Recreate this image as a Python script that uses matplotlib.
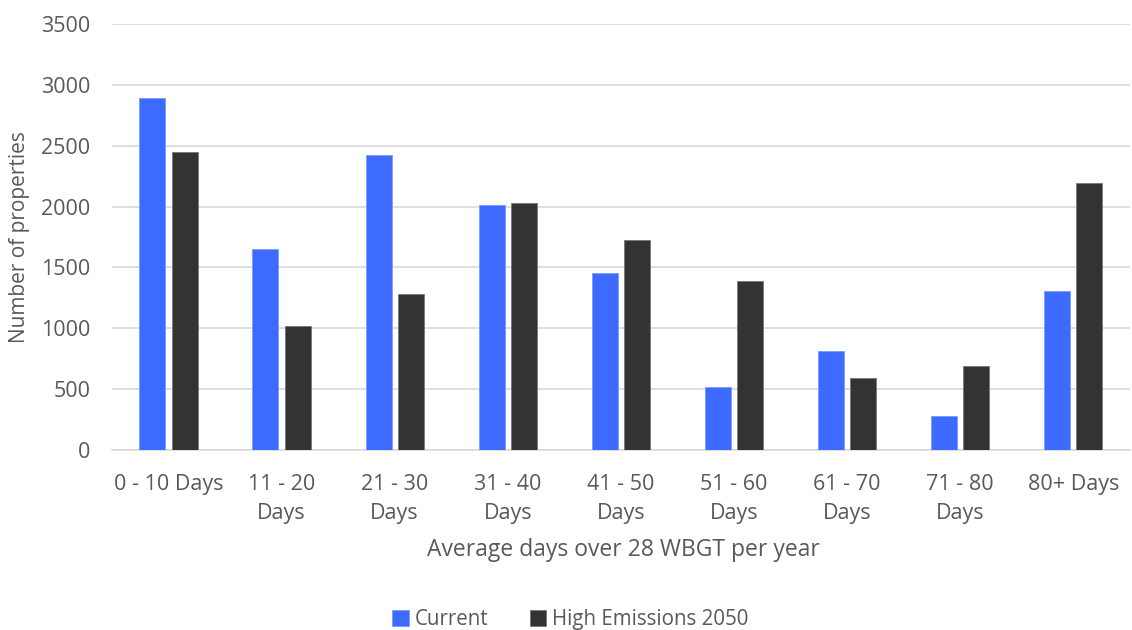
import matplotlib.pyplot as plt
import numpy as np

categories = ['0 - 10 Days', '11 - 20\nDays', '21 - 30\nDays', '31 - 40\nDays',
              '41 - 50\nDays', '51 - 60\nDays', '61 - 70\nDays', '71 - 80\nDays',
              '80+ Days']
current = [2890, 1650, 2420, 2015, 1455, 515, 810, 280, 1310]
high_2050 = [2445, 1020, 1280, 2025, 1727, 1388, 593, 686, 2190]
y_ticks = [0, 500, 1000, 1500, 2000, 2500, 3000, 3500]

plt.rcParams['font.family'] = ['Open Sans', 'DejaVu Sans']
text_color = '#595959'

fig = plt.figure(figsize=(11.32, 6.3), dpi=100)
ax = fig.add_axes([0.0989, 0.2857, 0.8991, 0.6763])

x = np.arange(len(categories))
w = 0.23
gap = 0.055
ax.bar(x - (w + gap) / 2, current, w, color='#3D6BFF', edgecolor='#7a9bff',
       linewidth=0.6, label='Current', zorder=3)
ax.bar(x + (w + gap) / 2, high_2050, w, color='#333333', edgecolor='#777777',
       linewidth=0.6, label='High Emissions 2050', zorder=3)

ax.set_xlim(-0.5, len(categories) - 0.5)
ax.set_ylim(0, 3500)
ax.set_yticks(y_ticks)
ax.set_xticks(x)
ax.set_xticklabels(categories, linespacing=1.55)
ax.yaxis.grid(True, color='#d9d9d9', linewidth=1.2, zorder=0)
for s in ['top', 'right', 'left']:
    ax.spines[s].set_visible(False)
ax.spines['bottom'].set_color('#d9d9d9')
ax.spines['bottom'].set_linewidth(1.2)
ax.tick_params(axis='both', length=0, labelsize=15.5, colors=text_color)
ax.tick_params(axis='y', pad=15.5)
ax.tick_params(axis='x', pad=17)

ax.set_ylabel('Number of properties', fontsize=15, color=text_color, labelpad=8)
fig.text(0.551, 0.127, 'Average days over 28 WBGT per year', fontsize=16.5,
         color=text_color, ha='center', va='center')

fig.legend(loc='center', bbox_to_anchor=(0.504, 0.017), ncol=2, frameon=False,
           fontsize=14.8, labelcolor=text_color, handlelength=0.8, handleheight=0.8,
           handletextpad=0.3, columnspacing=2.0)

fig.savefig('out.png', dpi=100)
plt.close()
